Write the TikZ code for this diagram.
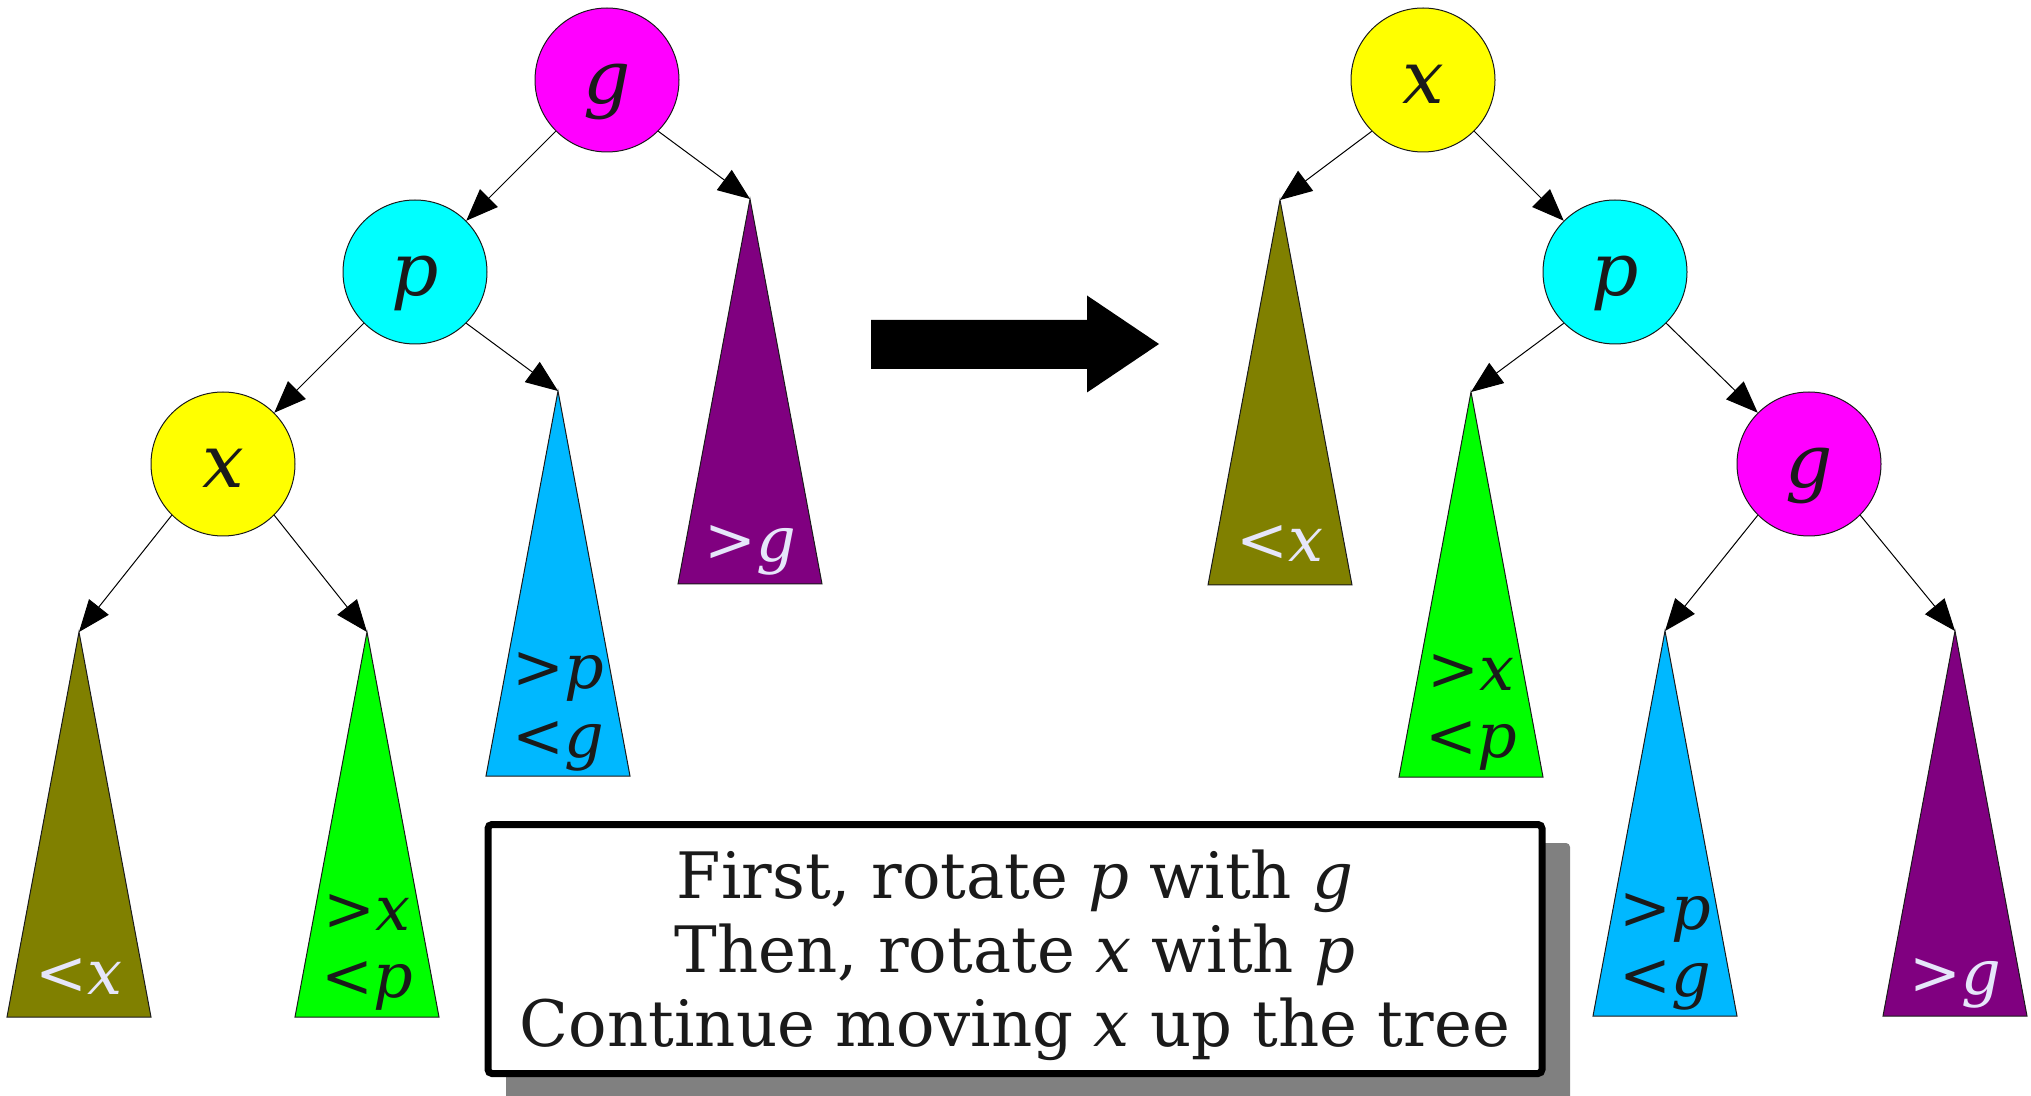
\documentclass[tikz,border=0pt]{standalone}
\usepackage{fontspec}
\setmainfont{DejaVu Serif}
\usetikzlibrary{arrows.meta}
\definecolor{magc}{RGB}{255,0,255}
\definecolor{cyanc}{RGB}{0,255,255}
\definecolor{yelc}{RGB}{255,255,0}
\definecolor{olivec}{RGB}{128,128,0}
\definecolor{greenc}{RGB}{0,255,0}
\definecolor{bluec}{RGB}{0,184,255}
\definecolor{purpc}{RGB}{128,0,128}
\definecolor{darkc}{RGB}{26,26,26}
\definecolor{lightc}{RGB}{230,230,250}
\definecolor{shadc}{RGB}{128,128,128}
\newcommand\subtree[4]{%
  \coordinate (#1) at (#2,#3);
  \filldraw[tri, fill=#4] (#1) -- ++(72,385) -- ++(-144,0) -- cycle;
}
\begin{document}
\begin{tikzpicture}[x=0.5pt,y=-0.5pt,
  circ/.style={circle, draw=darkc, line width=0.5pt, minimum size=72pt, inner sep=0pt},
  cl/.style={anchor=base, text=darkc, font=\fontsize{37pt}{40pt}\selectfont\itshape, inner sep=0pt},
  lbl/.style={anchor=base, font=\fontsize{31pt}{36pt}\selectfont, inner sep=0pt},
  tri/.style={draw=darkc, line width=0.5pt},
  conn/.style={draw=black, line width=0.5pt, -{Triangle[length=16pt,width=12.5pt]}},
  boxtext/.style={anchor=base, text=darkc, font=\fontsize{32pt}{37pt}\selectfont, inner sep=0pt}]
\useasboundingbox (0,0) rectangle (2031,1096);
% ---------- left tree ----------
\subtree{Lpurp}{750}{199}{purpc}
\subtree{Lblue}{558}{391}{bluec}
\subtree{Lolive}{79}{632}{olivec}
\subtree{Lgreen}{367}{632}{greenc}
\node[circ, fill=magc] (G1) at (607,80) {};
\node[circ, fill=cyanc] (P1) at (415,272) {};
\node[circ, fill=yelc] (X1) at (223,464) {};
\node[cl] (G1t) at (607,104) {g};
\node[cl] (P1t) at (415,296) {p};
\node[cl] (X1t) at (223,488) {x};
\draw[conn] (G1.south west) -- (P1.north east);
\draw[conn] (G1.south east) -- (Lpurp);
\draw[conn] (P1.south west) -- (X1.north east);
\draw[conn] (P1.south east) -- (Lblue);
\draw[conn] (X1.south west) -- (Lolive);
\draw[conn] (X1.south east) -- (Lgreen);
\node[lbl, text=lightc] (LpurpA) at (750,562) {>\textit{g}};
\node[lbl, text=darkc] (LblueA) at (558,689) {>\textit{p}};
\node[lbl, text=darkc] (LblueB) at (558,757) {<\textit{g}};
\node[lbl, text=lightc] (LoliveA) at (79,994) {<\textit{x}};
\node[lbl, text=darkc] (LgreenA) at (367,930) {>\textit{x}};
\node[lbl, text=darkc] (LgreenB) at (367,997) {<\textit{p}};
% ---------- big arrow ----------
\fill[black] (871,320) -- (1087,320) -- (1087,295.5) -- (1159,344) -- (1087,392.5) -- (1087,369) -- (871,369) -- cycle;
% ---------- right tree ----------
\subtree{Rolive}{1280}{200}{olivec}
\subtree{Rgreen}{1471}{392}{greenc}
\subtree{Rblue}{1665}{631}{bluec}
\subtree{Rpurp}{1955}{631}{purpc}
\node[circ, fill=yelc] (X2) at (1423,80) {};
\node[circ, fill=cyanc] (P2) at (1615,272) {};
\node[circ, fill=magc] (G2) at (1809,464) {};
\node[cl] (X2t) at (1423,104) {x};
\node[cl] (P2t) at (1615,296) {p};
\node[cl] (G2t) at (1809,488) {g};
\draw[conn] (X2.south west) -- (Rolive);
\draw[conn] (X2.south east) -- (P2.north west);
\draw[conn] (P2.south west) -- (Rgreen);
\draw[conn] (P2.south east) -- (G2.north west);
\draw[conn] (G2.south west) -- (Rblue);
\draw[conn] (G2.south east) -- (Rpurp);
\node[lbl, text=lightc] (RoliveA) at (1280,562) {<\textit{x}};
\node[lbl, text=darkc] (RgreenA) at (1471,690) {>\textit{x}};
\node[lbl, text=darkc] (RgreenB) at (1471,757) {<\textit{p}};
\node[lbl, text=darkc] (RblueA) at (1665,929) {>\textit{p}};
\node[lbl, text=darkc] (RblueB) at (1665,996) {<\textit{g}};
\node[lbl, text=lightc] (RpurpA) at (1955,994) {>\textit{g}};
% ---------- text box ----------
\fill[shadc, rounded corners=2pt] (506,843) rectangle (1570,1100);
\node[draw=black, fill=white, line width=3.5pt, rounded corners=2pt,
      minimum width=527pt, minimum height=124.5pt, inner sep=0pt] (box) at (1015,949) {};
\node[boxtext] (t1) at (1015,898) {First, rotate \textit{p} with \textit{g}};
\node[boxtext] (t2) at (1015,972) {Then, rotate \textit{x} with \textit{p}};
\node[boxtext] (t3) at (1015,1046) {Continue moving \textit{x} up the tree};
\end{tikzpicture}
\end{document}
